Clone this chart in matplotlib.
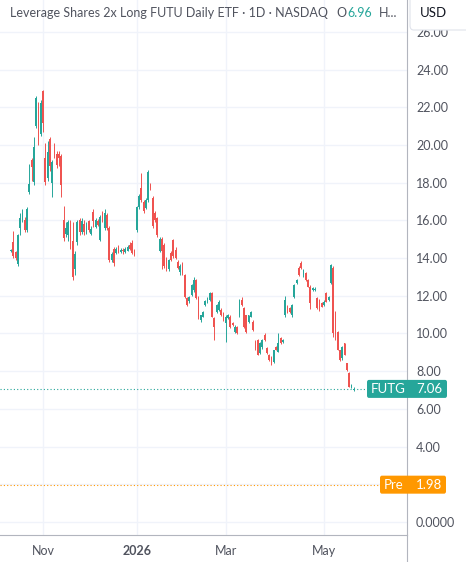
import numpy as np
import pandas as pd
import matplotlib
matplotlib.use("Agg")
import matplotlib.pyplot as plt
from matplotlib.patches import FancyBboxPatch
from matplotlib.lines import Line2D

# daily candles, 14 Oct 2025 onward
opens = [14.35, 14.85, 14.3, 13.7, 15.6, 16.0, 16.0, 15.5, 17.5, 19.2,
         18.05, 21.0, 22.0, 20.6, 22.85, 19.3, 18.25, 20.3, 18.0, 19.9,
         19.5, 19.5, 19.4, 16.0, 15.3, 15.2, 15.9, 14.9, 13.4, 14.85,
         16.0, 15.4, 15.8, 15.5, 15.95, 15.3, 16.45, 15.65, 15.95, 14.95,
         16.4, 15.6, 16.3, 15.6, 13.9, 14.5, 14.25, 14.6, 14.3, 14.45,
         14.3, 14.4, 14.7, 14.8, 14.45, 15.5, 16.7, 17.7, 17.0, 16.65,
         17.1, 17.85, 17.2, 16.4, 16.1, 14.4, 15.0, 14.7, 14.0, 13.4,
         14.25, 14.95, 14.45, 13.8, 13.25, 13.7, 13.1, 11.9, 11.7, 12.05,
         12.3, 12.85, 11.95, 10.7, 10.9, 11.5, 11.7, 11.78, 12.13, 10.8,
         11.16, 11.25, 11.25, 11.07, 10.54, 10.8, 10.9, 10.54, 10.1, 10.36,
         10.98, 11.78, 11.34, 10.98, 10.63, 10.9, 10.63, 9.56, 9.65, 8.95,
         9.3, 9.92, 9.21, 8.86, 8.77, 8.5, 9.3, 9.04, 9.74, 9.56,
         10.98, 11.42, 11.34, 10.98, 11.95, 12.66, 13.46, 13.72, 13.1, 13.19,
         12.84, 12.48, 12.31, 12.3, 11.87, 11.78, 11.6, 11.51, 12.13, 11.78,
         12.66, 13.5, 11.16, 10.1, 9.12, 8.68, 9.48, 8.42, 7.92, 7.18,
         7.0]
highs = [14.5, 15.45, 14.4, 15.3, 16.4, 16.6, 16.2, 16.7, 19.0, 19.3,
         20.4, 22.6, 22.3, 22.4, 22.9, 20.1, 20.2, 20.4, 19.2, 20.1,
         19.7, 19.7, 19.5, 16.75, 15.9, 16.0, 16.0, 15.9, 14.4, 16.0,
         16.1, 16.1, 16.0, 15.9, 16.0, 15.7, 16.6, 16.1, 16.05, 16.3,
         16.5, 16.6, 16.4, 15.7, 14.3, 14.6, 14.6, 14.7, 14.55, 14.55,
         14.6, 14.7, 14.87, 14.95, 14.5, 16.75, 17.4, 18.5, 17.1, 17.2,
         18.65, 18.0, 17.3, 16.5, 16.2, 15.1, 15.1, 14.8, 14.05, 13.95,
         14.4, 15.0, 14.6, 13.9, 13.7, 13.8, 13.15, 11.95, 12.0, 12.6,
         13.0, 12.9, 12.0, 11.0, 11.2, 11.75, 11.95, 12.2, 12.2, 10.9,
         11.55, 11.75, 11.35, 11.15, 11.0, 11.05, 11.0, 10.6, 10.45, 10.4,
         11.85, 11.95, 11.4, 11.0, 11.0, 11.2, 10.7, 9.65, 9.7, 9.55,
         9.7, 10.0, 9.3, 8.9, 8.8, 9.15, 9.35, 10.03, 9.8, 9.7,
         12.0, 11.5, 11.4, 11.55, 12.65, 12.9, 13.6, 13.86, 13.4, 13.25,
         12.9, 12.55, 12.45, 12.45, 11.95, 11.85, 11.65, 11.75, 12.2, 12.0,
         13.7, 13.6, 11.2, 10.15, 9.15, 9.35, 9.5, 8.45, 7.95, 7.3,
         7.15]
lows = [14.3, 14.0, 13.9, 13.6, 15.2, 15.9, 15.4, 15.4, 17.4, 18.1,
        17.9, 20.9, 20.0, 20.5, 20.7, 17.85, 18.1, 18.6, 17.25, 19.3,
        18.8, 18.9, 17.25, 14.9, 15.1, 14.9, 14.5, 12.85, 13.1, 14.7,
        15.2, 15.3, 15.2, 15.3, 15.4, 15.2, 15.65, 15.6, 15.7, 14.9,
        15.9, 15.5, 15.5, 13.8, 13.8, 13.6, 14.2, 14.25, 14.25, 14.2,
        14.25, 14.35, 14.45, 14.2, 14.1, 15.4, 16.6, 17.0, 16.4, 16.6,
        17.0, 17.6, 15.6, 15.9, 15.1, 14.3, 13.4, 13.5, 13.3, 13.3,
        13.85, 14.0, 13.95, 13.4, 13.1, 13.1, 11.9, 11.45, 11.6, 12.0,
        12.2, 11.85, 10.75, 10.6, 10.85, 11.45, 11.6, 11.7, 10.85, 9.65,
        11.1, 11.2, 10.95, 10.65, 9.55, 10.75, 10.3, 10.4, 10.0, 9.95,
        10.9, 11.45, 10.3, 10.05, 10.55, 10.85, 10.15, 9.15, 8.85, 8.9,
        9.2, 9.6, 8.9, 8.55, 8.33, 8.45, 9.1, 9.0, 9.45, 9.5,
        10.9, 11.1, 11.1, 10.9, 11.9, 12.6, 13.05, 13.4, 13.0, 12.8,
        12.45, 11.3, 12.25, 12.25, 11.3, 11.2, 11.4, 11.45, 11.65, 11.7,
        12.6, 9.8, 9.65, 9.1, 8.55, 8.6, 8.85, 8.0, 7.15, 7.1,
        6.95]
closes = [14.45, 14.1, 14.0, 15.2, 16.1, 16.4, 15.5, 16.6, 17.95, 18.85,
          19.9, 22.5, 20.2, 22.2, 21.15, 18.05, 19.65, 18.9, 19.1, 19.6,
          18.95, 19.3, 17.9, 15.05, 15.6, 15.9, 15.0, 13.0, 14.2, 15.9,
          15.4, 15.95, 15.4, 15.7, 15.5, 15.55, 15.95, 16.0, 15.75, 16.2,
          15.95, 16.4, 15.6, 13.9, 14.2, 13.75, 14.5, 14.3, 14.45, 14.35,
          14.5, 14.6, 14.5, 14.25, 14.15, 16.7, 17.3, 17.1, 16.5, 17.1,
          18.55, 17.7, 15.7, 16.0, 15.2, 15.0, 14.4, 13.6, 13.45, 13.9,
          13.9, 14.1, 14.0, 13.45, 13.6, 13.2, 11.95, 11.5, 11.95, 12.55,
          12.85, 11.9, 10.85, 10.98, 11.16, 11.7, 11.87, 12.13, 10.9, 10.36,
          11.5, 11.69, 10.98, 10.7, 10.9, 10.98, 10.36, 10.45, 10.36, 10.0,
          11.78, 11.5, 10.36, 10.1, 10.98, 11.16, 10.19, 9.21, 8.86, 9.48,
          9.65, 9.65, 8.95, 8.6, 8.42, 9.12, 9.12, 9.48, 9.48, 9.65,
          11.78, 11.16, 11.16, 11.51, 12.57, 12.84, 13.1, 13.46, 13.37, 12.84,
          12.48, 11.6, 12.4, 12.38, 11.34, 11.25, 11.42, 11.69, 11.69, 11.95,
          13.63, 10.0, 9.8, 9.12, 8.6, 9.3, 8.86, 8.06, 7.18, 7.27,
          7.06]

holidays = ["2025-11-27", "2025-12-25", "2026-01-01", "2026-01-19",
            "2026-02-16", "2026-04-03"]
month_starts = ["2025-11-01", "2026-01-01", "2026-03-01", "2026-05-01"]
month_labels = ["Nov", "2026", "Mar", "May"]
price_levels = [0, 2, 4, 6, 8, 10, 12, 14, 16, 18, 20, 22, 24, 26]
price_labels = ["0.0000", "", "4.00", "6.00", "8.00", "10.00", "12.00", "14.00",
                "16.00", "18.00", "20.00", "22.00", "24.00", "26.00"]
last_price = 7.06
pre_price = 1.98
ticker = "FUTG"
title = "Leverage Shares 2x Long FUTU Daily ETF · 1D · NASDAQ"
open_value = "6.96"

UP = "#26a69a"
DOWN = "#ef5350"
PRE = "#ff9800"
GRID = "#f0f3fa"
TEXT = "#50535e"
W, H = 466, 562

plt.rcParams["font.family"] = ["Lato", "DejaVu Sans"]

opens = np.array(opens)
highs = np.array(highs)
lows = np.array(lows)
closes = np.array(closes)
dates = pd.bdate_range("2025-10-14", periods=len(closes), freq="C", holidays=holidays)
idx = np.arange(len(closes))
month_idx = [dates.searchsorted(pd.Timestamp(m)) for m in month_starts]

fig = plt.figure(figsize=(W / 100, H / 100), dpi=100)
fig.patch.set_facecolor("white")
ax = fig.add_axes([0, 27 / H, 407 / W, 535 / H])

colors = np.where(closes >= opens, UP, DOWN)
ax.vlines(idx, lows, highs, colors=colors, lw=0.7, zorder=3)
ax.bar(idx, closes - opens, bottom=opens, width=0.75, color=colors, lw=0, zorder=4)

ax.set_xlim(-4.8, 173.3)
ax.set_ylim(-0.69, 27.69)

ax.set_xticks(month_idx)
ax.set_xticklabels(month_labels)
ax.get_xticklabels()[1].set_fontweight("bold")
ax.set_yticks(price_levels)
ax.set_yticklabels(price_labels)
ax.yaxis.tick_right()
ax.tick_params(axis="y", length=0, pad=6.5, labelsize=9, labelcolor=TEXT)
ax.tick_params(axis="x", length=0, pad=7, labelsize=9, labelcolor=TEXT)
ax.grid(True, color=GRID, lw=1, zorder=0)
for s in ["top", "left"]:
    ax.spines[s].set_visible(False)
for s in ["right", "bottom"]:
    ax.spines[s].set_color("#b2b5be")
    ax.spines[s].set_linewidth(0.8)
fig.add_artist(Line2D([407 / W, 407 / W], [0, 27 / H], color="#b2b5be", lw=0.8))

# last price and pre-market lines
ax.axhline(last_price, color=UP, ls=(0, (1, 2)), lw=0.8, zorder=2)
ax.axhline(pre_price, color=PRE, ls=(0, (1, 2)), lw=0.8, zorder=2)


def price_tag(price, name, color, x0, x1):
    yf = ax.transData.transform((0, price))[1] / H
    h = 18 / H
    box = FancyBboxPatch((x0 / W, yf - h / 2), (x1 - x0) / W, h,
                         boxstyle="round,pad=0,rounding_size=0.004",
                         transform=fig.transFigure, fc=color, ec="none", zorder=10)
    fig.add_artist(box)
    fig.text((x0 + 4) / W, yf, name, color="white", fontsize=9.5,
             va="center", ha="left", zorder=11)
    fig.text(416 / W, yf, f"{price:.2f}", color="white", fontsize=9.5,
             va="center", ha="left", zorder=11)


price_tag(last_price, ticker, UP, 367, 447)
price_tag(pre_price, "Pre", PRE, 380, 446)

# currency box top right, sits over the top price label
fig.add_artist(FancyBboxPatch((410 / W, 1 - 30 / H), 70 / W, 40 / H,
                              boxstyle="round,pad=0,rounding_size=0.008",
                              transform=fig.transFigure, fc="white",
                              ec="#e0e3eb", lw=0.8, zorder=5))
fig.text(420 / W, 1 - 13 / H, "USD", color="#131722", fontsize=9.5,
         va="center", ha="left", zorder=6)

# legend line
renderer = fig.canvas.get_renderer()
t = fig.text(10 / W, 1 - 13 / H, title, color=TEXT, fontsize=9, va="center")
x = t.get_window_extent(renderer).x1 + 8
t = fig.text(x / W, 1 - 13 / H, "O", color=TEXT, fontsize=9, va="center")
x = t.get_window_extent(renderer).x1 + 1
t = fig.text(x / W, 1 - 13 / H, open_value, color=UP, fontsize=9, va="center")
x = t.get_window_extent(renderer).x1 + 7
fig.text(x / W, 1 - 13 / H, "H...", color=TEXT, fontsize=9, va="center")

fig.savefig("out.png", dpi=100)
